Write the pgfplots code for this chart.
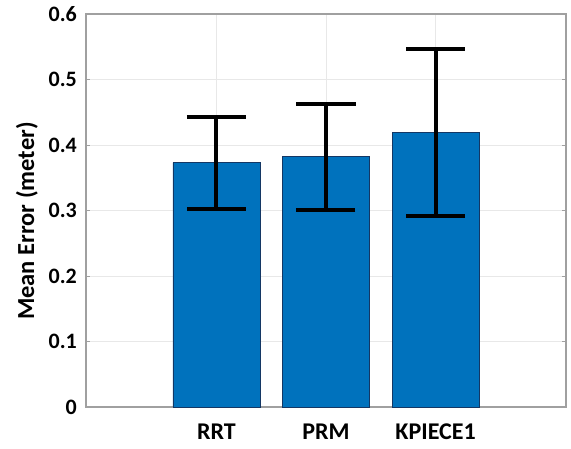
\documentclass[border=0pt]{standalone}
\usepackage{fontspec}
\setmainfont{Carlito}
\usepackage{pgfplots}
\pgfplotsset{compat=1.18}
\definecolor{barblue}{RGB}{0,114,189}
\definecolor{baredge}{RGB}{20,55,100}
\definecolor{axgray}{RGB}{160,160,160}
\definecolor{gridgray}{RGB}{232,232,232}
\begin{document}
\begin{tikzpicture}
\begin{axis}[
  at={(0pt,0pt)}, anchor=south west,
  scale only axis,
  width=480pt, height=393pt,
  xmin=-0.19, xmax=4.19,
  ymin=0, ymax=0.6,
  xtick={1,2,3},
  xticklabels={RRT,PRM,KPIECE1},
  ytick={0,0.1,0.2,0.3,0.4,0.5,0.6},
  yticklabels={0,0.1,0.2,0.3,0.4,0.5,0.6},
  /pgf/number format/assume math mode=true,
  xticklabel style={font=\fontsize{24}{27}\selectfont\bfseries, anchor=base, inner sep=0pt, yshift=-32pt},
  yticklabel style={font=\fontsize{22}{25}\selectfont\bfseries, anchor=east, inner sep=0pt, xshift=-9pt},
  ylabel={Mean Error (meter)},
  ylabel style={font=\fontsize{24.5}{28}\selectfont\bfseries, at={(axis description cs:-0.1083,0.473)}, anchor=base, inner sep=0pt},
  axis line style={axgray, line width=1.2pt},
  tick style={axgray, line width=1pt},
  major tick length=4pt,
  tick pos=both,
  tick align=inside,
  xtick style={draw=none},
  xmajorgrids, ymajorgrids,
  grid style={gridgray, line width=0.8pt},
  clip=false,
]
\addplot[ybar, bar width=87pt, fill=barblue, draw=baredge, line width=0.8pt,
  error bars/.cd, y dir=both, y explicit,
  error bar style={black, line width=4pt},
  error mark options={black, line width=4pt, mark size=29.5pt, rotate=90}]
coordinates {
  (1,0.373) +- (0,0.070)
  (2,0.382) +- (0,0.081)
  (3,0.419) +- (0,0.127)
};
\end{axis}
\pgfresetboundingbox
\useasboundingbox (-86pt,-41pt) rectangle (485pt,407pt);
\end{tikzpicture}
\end{document}
